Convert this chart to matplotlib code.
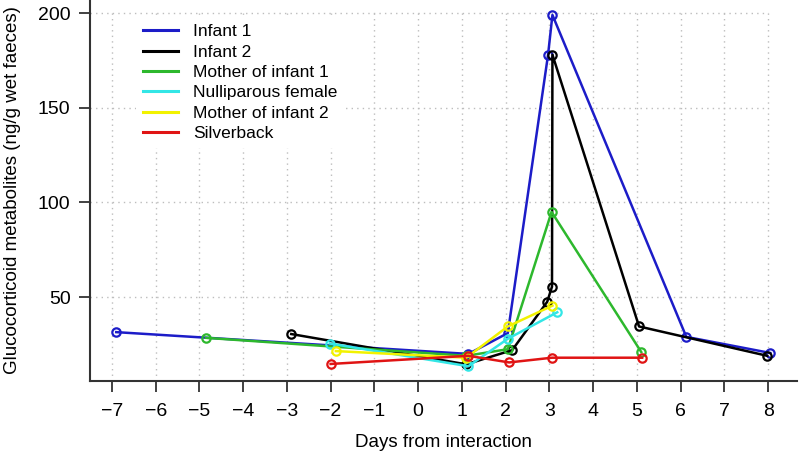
import matplotlib
matplotlib.use("Agg")
import matplotlib.pyplot as plt
from matplotlib.lines import Line2D

plt.rcParams['font.family'] = ['Liberation Sans', 'DejaVu Sans']

# values (days from interaction, ng/g wet faeces)
infant1_x = [-6.9, 1.15, 2.05, 2.97, 3.07, 6.13, 8.05]
infant1_y = [31.5, 20, 31, 178, 199, 29, 20.5]

infant2_x = [-2.9, 1.1, 2.15, 2.95, 3.06, 3.07, 5.05, 7.98]
infant2_y = [30.5, 14.5, 22, 47.5, 55.5, 178, 34.5, 19]

mother1_x = [-4.85, 1.1, 2.05, 3.05, 5.1]
mother1_y = [28.5, 19, 22.5, 95, 21]

nulli_x = [-2.02, 1.15, 2.05, 3.18]
nulli_y = [25.5, 13.5, 28, 42]

mother2_x = [-1.88, 1.1, 2.05, 3.07]
mother2_y = [21.5, 18, 34.5, 45.5]

silver_x = [-2.0, 1.15, 2.08, 3.06, 5.12]
silver_y = [14.7, 19, 15.5, 18, 18]

x_ticks = list(range(-7, 9))
y_ticks = [50, 100, 150, 200]

series = [
    ("Infant 1", infant1_x, infant1_y, "#1c1cc8"),
    ("Infant 2", infant2_x, infant2_y, "#000000"),
    ("Mother of infant 1", mother1_x, mother1_y, "#2db82d"),
    ("Nulliparous female", nulli_x, nulli_y, "#33e6e6"),
    ("Mother of infant 2", mother2_x, mother2_y, "#f2f200"),
    ("Silverback", silver_x, silver_y, "#e01414"),
]

fig = plt.figure(figsize=(7.99, 4.54), dpi=100)
ax = fig.add_axes([90 / 799, 73 / 454, 707 / 799, 381 / 454])

ax.set_xlim(-7.5, 8.66)
ax.set_ylim(5.7, 206.9)

# dotted grid, limited to the tick range like the original
ax.hlines(y_ticks, -7.5, x_ticks[-1], colors="#bdbdbd", linestyles=(0, (1, 3)), linewidth=1, zorder=0)
ax.vlines(x_ticks, 5.7, y_ticks[-1], colors="#bdbdbd", linestyles=(0, (1, 3)), linewidth=1, zorder=0)

handles = []
for name, xs, ys, col in series:
    ax.plot(xs, ys, color=col, linewidth=1.8, marker="o", markersize=6,
            markerfacecolor="none", markeredgewidth=1.6, zorder=3)
    handles.append(Line2D([], [], color=col, linewidth=2.2, label=name))

leg = ax.legend(handles=handles, loc="upper left", bbox_to_anchor=(0.065, 0.955),
                borderaxespad=0, fontsize=12.5, handlelength=2.0, handletextpad=0.9,
                labelspacing=0.3, frameon=True, fancybox=False, edgecolor="none",
                facecolor="white", framealpha=1)
leg.set_zorder(2)

ax.set_xticks(x_ticks)
ax.set_yticks(y_ticks)
ax.tick_params(labelsize=14, length=8, width=1.3, color="#333333")
ax.tick_params(axis="x", pad=8)
ax.tick_params(axis="y", pad=6)
for s in ["top", "right"]:
    ax.spines[s].set_visible(False)
for s in ["left", "bottom"]:
    ax.spines[s].set_linewidth(1.5)
    ax.spines[s].set_color("#333333")

ax.set_xlabel("Days from interaction", fontsize=13.5, labelpad=10)
ax.set_ylabel("Glucocorticoid metabolites (ng/g wet faeces)", fontsize=13.5, labelpad=12)

fig.savefig("out.png", dpi=100)
